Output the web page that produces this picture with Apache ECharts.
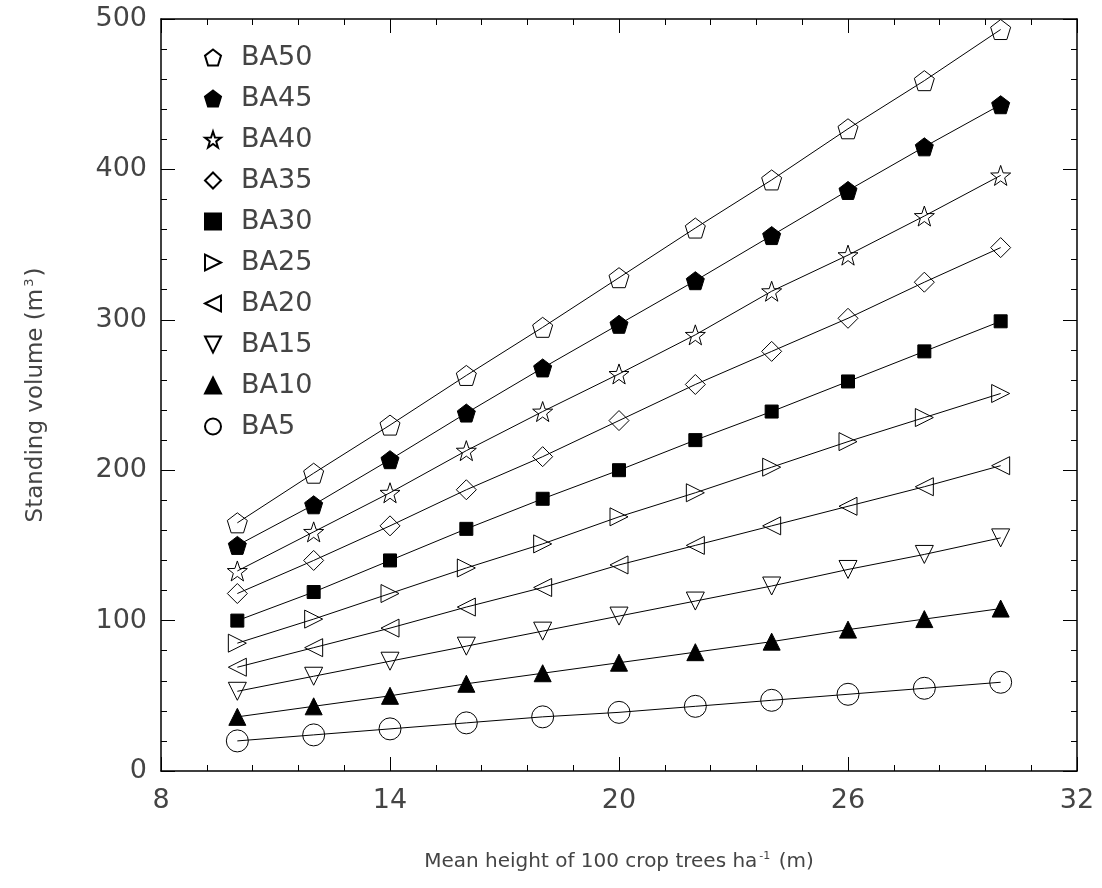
<!DOCTYPE html>
<html>
<head>
<meta charset="utf-8">
<script src="https://cdn.jsdelivr.net/npm/echarts@6/dist/echarts.min.js"></script>
<style>
  html, body { margin: 0; padding: 0; background: #fff; }
  #chart { width: 1102px; height: 888px; }
</style>
</head>
<body>
<div id="chart"></div>
<script>
// mean height of 100 crop trees (m)
var heights = [10, 12, 14, 16, 18, 20, 22, 24, 26, 28, 30];

// standing volume (m3) per basal area class
var ba50 = [165, 198, 230, 263, 295, 328, 361, 393, 427, 459, 493];
var ba45 = [150, 177, 207, 238, 268, 297, 326, 356, 386, 415, 443];
var ba40 = [133, 159, 185, 213, 239, 264, 290, 319, 343, 369, 396];
var ba35 = [118, 140, 163, 187, 209, 233, 257, 279, 301, 325, 348];
var ba30 = [100, 119, 140, 161, 181, 200, 220, 239, 259, 279, 299];
var ba25 = [85, 101, 118, 135, 151, 169, 185, 202, 219, 235, 251];
var ba20 = [69, 82, 95, 109, 122, 137, 150, 163, 176, 189, 203];
var ba15 = [53, 63, 73, 83, 93, 103, 113, 123, 134, 144, 155];
var ba10 = [36, 43, 50, 58, 65, 72, 79, 86, 94, 101, 108];
var ba5 = [20, 24, 28, 32, 36, 39, 43, 47, 51, 55, 59];

var xTicks = [8, 14, 20, 26, 32];
var yTicks = [0, 100, 200, 300, 400, 500];

var pentagon = "path://M0,-10L9.51,-3.09L5.88,8.09L-5.88,8.09L-9.51,-3.09Z";
var star = "path://M0,-10L2.35,-3.24L9.51,-3.09L3.8,1.24L5.88,8.09L0,4L-5.88,8.09L-3.8,1.24L-9.51,-3.09L-2.35,-3.24Z";

var open = { color: "rgba(255,255,255,0)", borderColor: "#000", borderWidth: 1 };
var filled = { color: "#000", borderColor: "#000", borderWidth: 1 };

// name, values, symbol, size, rotate, style
var defs = [
  ["BA50", ba50, pentagon, 20, 0, open],
  ["BA45", ba45, pentagon, 18, 0, filled],
  ["BA40", ba40, star, 20, 0, open],
  ["BA35", ba35, "diamond", 20, 0, open],
  ["BA30", ba30, "rect", 13, 0, filled],
  ["BA25", ba25, "triangle", 18, -90, open],
  ["BA20", ba20, "triangle", 18, 90, open],
  ["BA15", ba15, "triangle", 18, 180, open],
  ["BA10", ba10, "triangle", 17, 0, filled],
  ["BA5", ba5, "circle", 22, 0, open]
];

function pairs(vals) {
  var out = [];
  for (var i = 0; i < heights.length; i++) out.push([heights[i], vals[i]]);
  return out;
}

var series = defs.map(function (d) {
  return {
    name: d[0],
    type: "line",
    data: pairs(d[1]),
    symbol: d[2],
    symbolSize: d[3],
    symbolRotate: d[4],
    showAllSymbol: true,
    itemStyle: d[5],
    lineStyle: { color: "#000", width: 1 },
    emphasis: { disabled: true },
    z: 3
  };
});

var font = "DejaVu Sans";
var textColor = "#444";
var labelFont = { fontFamily: font, fontSize: 27, color: textColor };

var axisCommon = {
  type: "value",
  axisLine: { show: true, onZero: false, lineStyle: { color: "#000", width: 1.5 } },
  axisTick: { show: true, inside: true, length: 14, lineStyle: { color: "#000" } },
  minorTick: { show: true, splitNumber: 5, length: 6, lineStyle: { color: "#000" } },
  splitLine: { show: false }
};

function nameRich(size) {
  return {
    t: { fontFamily: font, fontSize: size, color: textColor },
    s: { fontFamily: font, fontSize: Math.round(size * 0.55), color: textColor, verticalAlign: "top", padding: [0, 2, Math.round(size * 0.55), 2] }
  };
}

var option = {
  backgroundColor: "#fff",
  animation: false,
  grid: { left: 161, right: 25, top: 19, bottom: 117 },
  legend: {
    orient: "vertical",
    left: 197,
    top: 39,
    itemWidth: 22,
    itemHeight: 20,
    itemGap: 14,
    lineStyle: { opacity: 0, width: 0 },
    textStyle: { fontFamily: font, fontSize: 27, color: textColor, padding: [0, 0, 0, 12] },
    data: defs.map(function (d) { return d[0]; })
  },
  xAxis: [
    Object.assign({}, axisCommon, {
      min: xTicks[0], max: xTicks[xTicks.length - 1], interval: 6,
      axisLabel: Object.assign({ margin: 16 }, labelFont),
      name: "{t|Mean height of 100 crop trees ha}{s|-1}{t| (m)}",
      nameLocation: "middle",
      nameGap: 80,
      nameTextStyle: { rich: nameRich(20) }
    }),
    Object.assign({}, axisCommon, {
      position: "top",
      min: xTicks[0], max: xTicks[xTicks.length - 1], interval: 6,
      axisLabel: { show: false }
    })
  ],
  yAxis: [
    Object.assign({}, axisCommon, {
      min: yTicks[0], max: yTicks[yTicks.length - 1], interval: 100,
      axisLabel: Object.assign({ margin: 14 }, labelFont),
      name: "{t|Standing volume (m}{s|3}{t|)}",
      nameLocation: "middle",
      nameGap: 112,
      nameRotate: 90,
      nameTextStyle: { rich: nameRich(23) }
    }),
    Object.assign({}, axisCommon, {
      position: "right",
      min: yTicks[0], max: yTicks[yTicks.length - 1], interval: 100,
      axisLabel: { show: false }
    })
  ],
  series: series
};

var myChart = echarts.init(document.getElementById("chart"));
myChart.setOption(option);
</script>
</body>
</html>
